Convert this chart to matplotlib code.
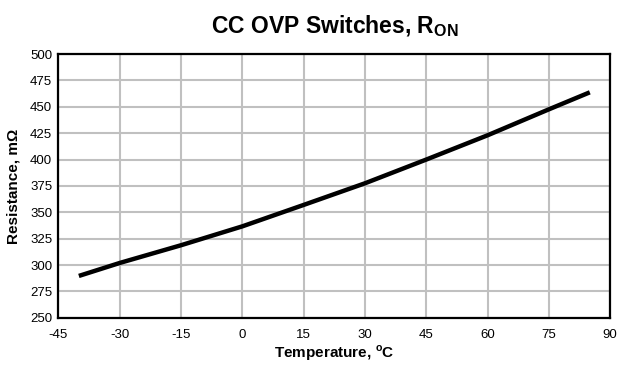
import numpy as np
from matplotlib import pyplot as plt

# values
temp_c = [-40, -30, -15, 0, 15, 30, 45, 60, 75, 85]
ron_mohm = [289.7, 302, 318.8, 336.7, 357, 377.5, 400, 423, 447.6, 463.7]

x_ticks = [-45, -30, -15, 0, 15, 30, 45, 60, 75, 90]
y_ticks = [250, 275, 300, 325, 350, 375, 400, 425, 450, 475, 500]

plt.rcParams['font.family'] = ['Liberation Sans', 'DejaVu Sans']
plt.rcParams['axes.unicode_minus'] = False
plt.rcParams['mathtext.fontset'] = 'custom'
plt.rcParams['mathtext.rm'] = 'Liberation Sans'
plt.rcParams['mathtext.bf'] = 'Liberation Sans:bold'

fig = plt.figure(figsize=(6.35, 3.7), dpi=100)
ax = fig.add_axes([0.092, 0.141, 0.869, 0.713])

ax.plot(temp_c, ron_mohm, color='black', lw=3.2, solid_capstyle='butt', zorder=3)

ax.set_xlim(-45, 90)
ax.set_ylim(250, 500)
ax.set_xticks(x_ticks)
ax.set_yticks(y_ticks)
ax.grid(True, color='#c0c0c0', lw=1.5)
ax.set_axisbelow(True)
for s in ax.spines.values():
    s.set_linewidth(1.6)
    s.set_color('black')
ax.tick_params(length=0, labelsize=9.5)
ax.tick_params(axis='x', pad=8)
ax.tick_params(axis='y', pad=4.5)

ax.set_xlabel(r'Temperature, $^{\mathbf{o}}$C', fontsize=11, fontweight='bold', labelpad=2)
ax.set_ylabel('Resistance, m\u03a9', fontsize=11, fontweight='bold', labelpad=7)
ax.set_title(r'CC OVP Switches, R$_{\mathbf{ON}}$', fontsize=16.5, fontweight='bold', pad=15)

plt.savefig('out.png', dpi=100)
